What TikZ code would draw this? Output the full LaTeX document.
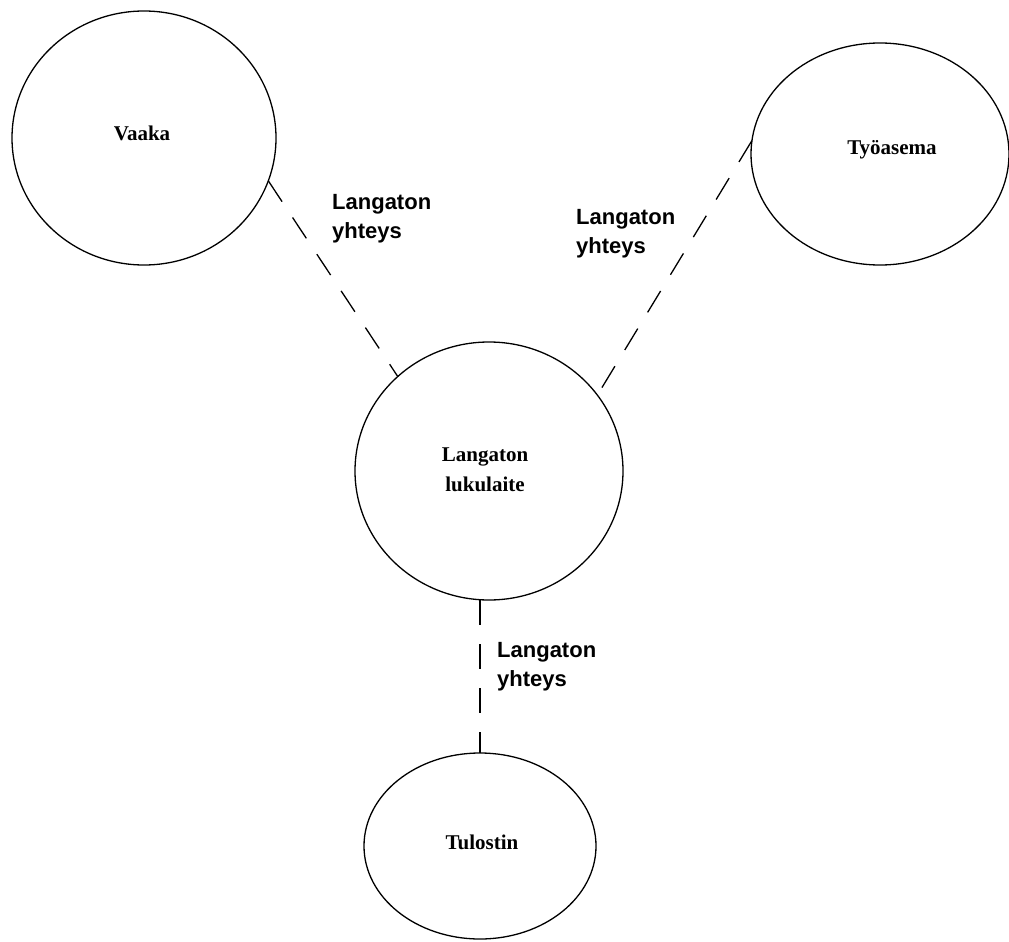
\documentclass[tikz,border=0pt]{standalone}
\usepackage{fontspec}
\setmainfont{Liberation Serif}
\newfontfamily\labfont{Liberation Sans}
\usetikzlibrary{shapes.geometric}
\begin{document}
\begin{tikzpicture}[x=1pt,y=-1pt,
  device/.style={draw=black,line width=1.3pt,ellipse,inner sep=0pt,outer sep=0pt},
  devtext/.style={font=\fontsize{21}{30}\selectfont\bfseries,align=center,inner sep=0pt},
  link/.style={draw=black,line width=1.3pt,dash pattern=on 25pt off 19pt},
  linktext/.style={font=\labfont\fontsize{22}{29}\selectfont\bfseries,align=left,inner sep=0pt,anchor=north west}]
\useasboundingbox[fill=white] (0,0) rectangle (1009,942);
\node[device,minimum width=264pt,minimum height=254pt] (vaaka) at (144,138) {};
\node[device,minimum width=258pt,minimum height=222pt] (tyo) at (880,154) {};
\node[device,minimum width=268pt,minimum height=258pt] (luku) at (489,471) {};
\node[device,minimum width=232pt,minimum height=186pt] (tul) at (480,846) {};
\node[devtext] (tvaaka) at (142,133) {Vaaka};
\node[devtext] (ttyo) at (892,150) {Työasema};
\node[devtext] (tluku) at (485,470) {Langaton\\lukulaite};
\node[devtext] (ttul) at (482,842) {Tulostin};
\draw[link] (vaaka.-19) -- (luku.134);
\draw[link] (tyo.174) -- (luku.35);
\draw[link] (tul.north |- luku.south) -- (tul.north);
\node[linktext] (l1) at (332,194) {Langaton\\yhteys};
\node[linktext] (l2) at (576,209) {Langaton\\yhteys};
\node[linktext] (l3) at (497,642) {Langaton\\yhteys};
\end{tikzpicture}
\end{document}
